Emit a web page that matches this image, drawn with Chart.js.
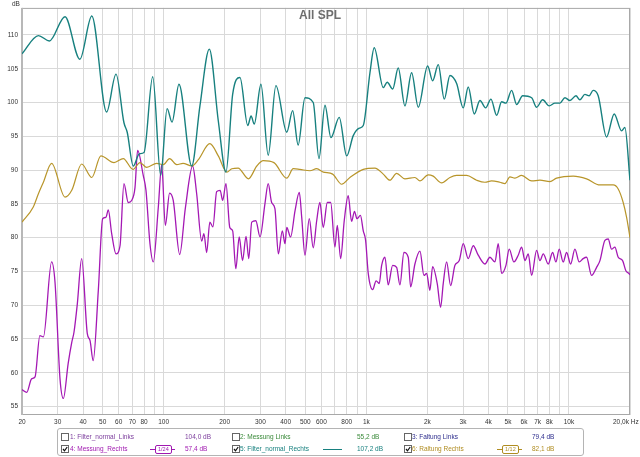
<!DOCTYPE html>
<html>
<head>
<meta charset="utf-8">
<script src="https://cdn.jsdelivr.net/npm/chart.js@4.4.1/dist/chart.umd.min.js"></script>
<style>
  html, body { margin: 0; padding: 0; background: #fff; }
  #wrap { position: relative; width: 640px; height: 457px; font-family: "Liberation Sans", Arial, sans-serif; }
  #chart { position: absolute; left: 0; top: 0; }
  .t { position: absolute; font-size: 6.5px; line-height: 8px; white-space: nowrap; }
  .title { position: absolute; left: 0; width: 640px; top: 8px; text-align: center; font: bold 12px "Liberation Sans", Arial, sans-serif; color: #6e6e6e; }
  .legend { position: absolute; left: 57px; top: 428px; width: 525px; height: 26px; border: 1px solid #b4b4b4; border-radius: 3px; }
  .cb { position: absolute; width: 6px; height: 6px; border: 1px solid #666; background: #fff; }
  .cb svg { position: absolute; left: 0; top: 0; }
  .smooth { position: absolute; height: 7px; border: 1px solid; border-radius: 2px; font-size: 5.5px; line-height: 7px; padding: 0 2px; background: #fff; }
  .seg { position: absolute; height: 0; border-top: 1px solid; }
</style>
</head>
<body>
<div id="wrap">
  <canvas id="chart" width="640" height="457"></canvas>
  <div class="t" style="left:12px;top:0px;color:#333">dB</div>
  <div class="title">All SPL</div>
  <div class="t" style="left:613px;top:418px;color:#333">20,0k Hz</div>
  <div class="legend"></div>
  <div id="legendItems"></div>
</div>
<script>
// Filter_normal_Rechts (teal)
const tealFreq = [20,24.1,27.3,32.6,38.6,44.2,52.3,58.2,63.7,66.1,70.8,75.8,80,88.3,96.7,104,110,119,137.5,151,168,186,203,219,238,260,270,280,302,328,358,405,433,461,498,547,584,625,669,735,800,862,923,966,1042,1094,1212,1268,1349,1437,1550,1673,1804,2007,2124,2264,2424,2586,2790,3008,3183,3408,3636,3879,4120,4396,4652,4886,5212,5516,5906,6541,6922,7413,7988,8523,9020,9550,10107,10825,11317,11982,12580,13163,13934,15326,16711,18176,18872,20000];
const tealDb = [107.2,109.9,109.1,112.7,106.4,112.8,98.6,104.2,97.0,95.6,90.6,92.4,92.6,103.8,89.2,99.1,97.1,102.7,90.6,99.5,107.9,97.3,89.7,101.2,103.7,96.6,98.0,96.8,102.7,92.2,102.5,95.6,98.8,93.7,100.7,100.0,91.7,99.6,94.8,97.8,92.1,95.1,96.2,96.6,104.4,108.1,102.2,103.0,102.0,105.1,99.5,104.4,99.3,105.4,103.2,105.6,100.5,104.0,102.8,99.2,102.3,98.3,100.3,99.2,100.5,98.1,100.1,99.9,101.8,99.7,101.0,100.7,99.3,100.4,99.5,99.9,99.9,100.7,100.3,101.0,100.4,101.2,101.0,101.8,101.0,94.9,98.3,95.8,96.3,88.5];

// Raltung Rechts (gold)
const goldFreq = [20,22.7,24.1,25.5,28.0,32.6,35.2,39.4,44.2,49.0,56.9,63.2,70.6,76.4,82.5,92.4,99.6,107,116,124.6,137.5,148,169,186,205,217,233,262,288,310,350,405,436,470,527,569,613,682,756,830,966,1103,1212,1307,1411,1550,1737,1839,2020,2138,2353,2586,2790,3126,3502,3849,4152,4563,4830,5113,5411,5838,6541,7190,8055,8688,10494,12216,14216,16524,17492,18512,19242,20000];
const goldDb = [82.3,84.5,86.5,88.2,91.0,86.0,87.0,90.9,88.9,92.1,91.1,91.7,90.1,91.1,90.4,91.0,90.8,91.7,90.8,91.0,90.6,91.5,93.9,92.1,89.7,90.2,90.3,88.7,90.6,91.4,91.1,88.8,90.2,90.1,89.9,90.2,89.7,89.4,87.9,88.9,90.1,90.3,89.4,88.5,89.5,88.7,88.9,88.4,89.3,89.1,88.1,88.9,89.2,89.2,88.5,88.2,88.4,88.2,88.0,89.0,88.8,89.2,88.4,88.5,88.3,88.8,89.1,88.7,87.8,87.8,87.2,85.2,83.0,80.0];

// Messung_Rechts (magenta)
const magFreq = [20,21.1,22.3,23.2,24.5,25.5,28.0,29.1,30.8,32.0,33.8,35.2,36.1,37.5,39.4,42.0,43.3,44.9,47.6,50.0,51.9,53.3,55.4,58.2,60.9,63.7,66.9,69.5,72.2,74.4,79.3,81.8,85.6,88.9,94.1,97.8,101.9,107,111.5,120,128,139,145.5,154,158,163,169,175,182.6,190,195.5,203,212,219,227,236,245,255,263,272,285,299,316,328,341,354,368,385,397,405,423,445,467,480,498,523,547,569,590,613,642,667,700,719,747,778,814,846,874,899,935,966,992,1022,1074,1118,1158,1190,1236,1282,1349,1411,1465,1533,1610,1654,1737,1839,1925,1984,2059,2124,2238,2326,2396,2490,2606,2737,2874,3008,3183,3370,3566,3849,4073,4311,4476,4652,4886,5070,5349,5617,5838,6062,6295,6541,6922,7190,7465,7898,8302,8618,8948,9364,9734,10187,10697,11233,11750,12212,12928,13684,14216,15038,15611,16225,16846,17492,18386,19084,19752,20000];
const magDb = [57.5,57.1,59.1,59.4,65.5,65.3,76.4,73.4,59.1,56.2,61.4,64.5,66.0,70.2,76.9,65.8,64.8,61.8,72.2,82.8,83.0,84.1,80.6,77.6,78.8,88.0,85.2,85.5,87.4,92.9,89.2,87.0,79.1,76.4,84.5,90.8,81.8,86.6,85.5,77.5,84.4,90.6,86.5,79.5,80.6,77.8,82.3,81.6,86.8,87.0,85.5,88.0,81.5,81.0,75.4,80.1,76.6,80.2,76.9,82.3,82.5,80.1,85.0,88.0,85.2,84.3,77.6,81.0,79.1,81.5,80.1,84.0,86.7,83.0,77.4,82.8,78.5,82.5,85.2,81.5,85.2,85.2,78.6,81.8,76.9,82.5,86.2,82.4,83.9,82.8,83.3,81.0,79.6,74.7,72.3,73.6,73.2,75.9,77.1,73.0,75.9,75.6,73.0,77.8,77.1,72.7,76.1,78.0,74.4,74.7,72.2,75.7,73.2,69.7,73.2,76.4,72.9,75.9,76.6,79.1,76.9,78.8,77.4,76.1,77.1,76.4,79.1,74.7,75.9,78.3,76.4,77.4,78.6,76.6,77.6,74.4,78.1,76.6,77.6,76.1,77.8,76.4,78.3,76.4,77.8,76.1,78.3,76.4,76.9,77.1,74.4,75.6,76.6,79.6,79.8,78.3,78.6,77.1,76.6,75.1,74.7,74.5];

// axes
const yTicks = [55,60,65,70,75,80,85,90,95,100,105,110];
const xGrid = [20,30,40,50,60,70,80,90,100,200,300,400,500,600,700,800,900,1000,2000,3000,4000,5000,6000,7000,8000,9000,10000,20000];
const xLabels = {20:'20',30:'30',40:'40',50:'50',60:'60',70:'70',80:'80',100:'100',200:'200',300:'300',400:'400',500:'500',600:'600',800:'800',1000:'1k',2000:'2k',3000:'3k',4000:'4k',5000:'5k',6000:'6k',7000:'7k',8000:'8k',10000:'10k'};

// legend rows: [checked, name, colour, value, extra]
const legendRows = [
  [false, '1: Filter_normal_Links', '#7b3c9c', '104,0 dB', null],
  [false, '2: Messung Links', '#3a8a3a', '55,2 dB', null],
  [false, '3: Faltung Links', '#2c2c8c', '79,4 dB', null],
  [true, '4: Messung_Rechts', '#a018b0', '57,4 dB', '1/24'],
  [true, '5: Filter_normal_Rechts', '#17807f', '107,2 dB', 'line'],
  [true, '6: Raltung Rechts', '#b08d22', '82,1 dB', '1/12']
];

const toPoints = (f, d) => f.map((v, i) => ({ x: v, y: d[i] }));

const frame = {
  id: 'frame',
  beforeDatasetsDraw(chart) {
    const a = chart.chartArea, c = chart.ctx;
    c.save();
    c.strokeStyle = '#a8a8a8';
    c.lineWidth = 1;
    c.strokeRect(a.left + 0.5, a.top + 0.5, a.right - a.left - 1, a.bottom - a.top - 1);
    c.fillStyle = '#b8b8b8';
    c.fillRect(a.left - 1, a.top, 2, a.bottom - a.top);
    c.restore();
  }
};

new Chart(document.getElementById('chart'), {
  type: 'line',
  data: {
    datasets: [
      { label: 'Filter_normal_Rechts', data: toPoints(tealFreq, tealDb), borderColor: '#17807f', borderWidth: 1.4, pointRadius: 0, cubicInterpolationMode: 'monotone' },
      { label: 'Raltung Rechts', data: toPoints(goldFreq, goldDb), borderColor: '#b8952a', borderWidth: 1.2, pointRadius: 0, cubicInterpolationMode: 'monotone' },
      { label: 'Messung_Rechts', data: toPoints(magFreq, magDb), borderColor: '#a418b4', borderWidth: 1.3, pointRadius: 0, cubicInterpolationMode: 'monotone' }
    ]
  },
  options: {
    responsive: false,
    animation: false,
    devicePixelRatio: 1,
    layout: { padding: { left: 0, right: 10, top: 7, bottom: 28 } },
    plugins: { legend: { display: false }, tooltip: { enabled: false }, title: { display: false } },
    scales: {
      x: {
        type: 'logarithmic',
        min: 20,
        max: 20000,
        afterBuildTicks: s => { s.ticks = xGrid.map(v => ({ value: v })); },
        afterFit: s => { s.height = 14; },
        grid: { color: '#d9d9d9', drawTicks: false },
        border: { display: false },
        ticks: {
          autoSkip: false, maxRotation: 0, padding: 3, color: '#333',
          font: { size: 6.5, family: '"Liberation Sans", Arial, sans-serif' },
          callback: v => xLabels[v] || ''
        }
      },
      y: {
        min: 53.75,
        max: 114,
        afterBuildTicks: s => { s.ticks = yTicks.map(v => ({ value: v })); },
        afterFit: s => { s.width = 22; },
        grid: { color: '#d9d9d9', drawTicks: false },
        border: { display: false },
        ticks: {
          padding: 4, color: '#333',
          font: { size: 6.5, family: '"Liberation Sans", Arial, sans-serif' }
        }
      }
    }
  },
  plugins: [frame]
});

// legend items
const colX = [[61, 70, 185], [232, 240, 357], [404, 412, 532]];
const rowY = [433, 445];
const box = document.getElementById('legendItems');
const check = '<svg width="6" height="6" viewBox="0 0 6 6"><path d="M1 3 L2.5 4.8 L5.2 1" fill="none" stroke="#111" stroke-width="1.2"/></svg>';
legendRows.forEach((r, i) => {
  const [cbx, tx, vx] = colX[i % 3];
  const y = rowY[Math.floor(i / 3)];
  let html = `<div class="cb" style="left:${cbx}px;top:${y}px">${r[0] ? check : ''}</div>`;
  html += `<div class="t" style="left:${tx}px;top:${y}px;color:${r[2]}">${r[1]}</div>`;
  html += `<div class="t" style="left:${vx}px;top:${y}px;color:${r[2]}">${r[3]}</div>`;
  if (r[4] === 'line') {
    html += `<div class="seg" style="left:${vx - 34}px;top:${y + 4}px;width:19px;border-color:${r[2]};border-top-width:1.5px"></div>`;
  } else if (r[4]) {
    html += `<div class="seg" style="left:${vx - 35}px;top:${y + 4}px;width:25px;border-color:${r[2]}"></div>`;
    html += `<div class="smooth" style="left:${vx - 30}px;top:${y}px;border-color:${r[2]};color:${r[2]}">${r[4]}</div>`;
  }
  box.insertAdjacentHTML('beforeend', html);
});
</script>
</body>
</html>
